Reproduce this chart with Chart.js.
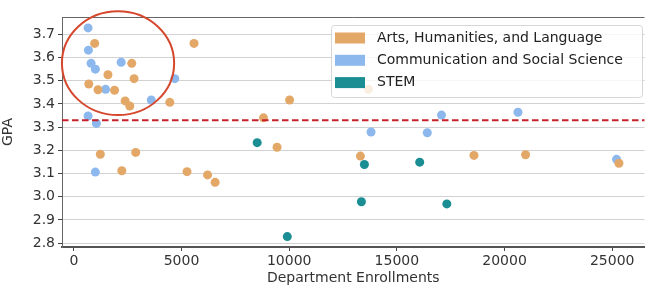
<!DOCTYPE html>
<html>
<head>
<meta charset="utf-8">
<script src="https://cdn.jsdelivr.net/npm/chart.js@4/dist/chart.umd.min.js"></script>
<style>
html,body{margin:0;padding:0;background:#fff;}
#wrap{width:649px;height:287px;position:relative;}
</style>
</head>
<body>
<div id="wrap"><canvas id="c" width="649" height="287"></canvas></div>
<script>
// ---- data ----
const seriesNames = ["Arts, Humanities, and Language", "Communication and Social Science", "STEM"];
const seriesColors = ["#E3A868", "#8DB8EE", "#1B8E93"];

const artsX = [968, 692, 1122, 1583, 1890, 2689, 2797, 2382, 2597, 4457, 5580, 10019, 8806, 1230, 2228, 2873, 5256, 6210, 6561, 9437, 13308, 18580, 20977, 25311, 13680];
const artsY = [3.661, 3.486, 3.461, 3.526, 3.459, 3.575, 3.509, 3.413, 3.391, 3.407, 3.661, 3.417, 3.340, 3.183, 3.112, 3.191, 3.108, 3.094, 3.062, 3.213, 3.175, 3.178, 3.181, 3.144, 3.463];

const commX = [660, 676, 800, 1000, 2198, 1475, 3596, 4687, 660, 1045, 1000, 13801, 16413, 17074, 20625, 25203];
const commY = [3.728, 3.632, 3.575, 3.550, 3.580, 3.463, 3.417, 3.509, 3.348, 3.316, 3.106, 3.279, 3.276, 3.352, 3.364, 3.161];

const stemX = [8514, 9912, 13492, 16061, 13354, 17320];
const stemY = [3.233, 2.828, 3.139, 3.149, 2.978, 2.969];

const xTicks = [0, 5000, 10000, 15000, 20000, 25000];
const yTicks = [2.8, 2.9, 3.0, 3.1, 3.2, 3.3, 3.4, 3.5, 3.6, 3.7];
const meanGPA = 3.33;
// highlighted cluster (data units)
const circleCenter = [2052, 3.576];
const circleRadius = [2605, 0.224];

const xLabel = "Department Enrollments";
const yLabel = "GPA";

function pts(xs, ys){ return xs.map((x,i)=>({x:x, y:ys[i]})); }

const FONT = "'DejaVu Sans', sans-serif";

const extras = {
  id: 'extras',
  afterDatasetsDraw(chart){
    const ctx = chart.ctx, a = chart.chartArea;
    const xs = chart.scales.x, ys = chart.scales.y;
    ctx.save();
    // top spine
    ctx.strokeStyle = '#666'; ctx.lineWidth = 1;
    ctx.beginPath(); ctx.moveTo(a.left, a.top + 0.5); ctx.lineTo(a.right, a.top + 0.5); ctx.stroke();
    // mean dashed line
    const yy = ys.getPixelForValue(meanGPA);
    ctx.strokeStyle = '#C8202A'; ctx.lineWidth = 2; ctx.setLineDash([6.5, 3.5]);
    ctx.beginPath(); ctx.moveTo(a.left, yy); ctx.lineTo(a.right, yy); ctx.stroke();
    ctx.setLineDash([]);
    // highlight ellipse
    const cx = xs.getPixelForValue(circleCenter[0]);
    const cy = ys.getPixelForValue(circleCenter[1]);
    const rx = Math.abs(xs.getPixelForValue(circleCenter[0] + circleRadius[0]) - cx);
    const ry = Math.abs(ys.getPixelForValue(circleCenter[1] + circleRadius[1]) - cy);
    ctx.strokeStyle = '#D5482E'; ctx.lineWidth = 2;
    ctx.beginPath(); ctx.ellipse(cx, cy, rx, ry, 0, 0, Math.PI*2); ctx.stroke();
    // legend
    const bw = 311, bh = 72;
    const bx = chart.width - 7 - bw, by = a.top + 8;
    ctx.fillStyle = 'rgba(255,255,255,0.8)';
    ctx.strokeStyle = '#d6d6d6'; ctx.lineWidth = 1;
    ctx.beginPath();
    if (ctx.roundRect) ctx.roundRect(bx + 0.5, by + 0.5, bw, bh, 3); else ctx.rect(bx + 0.5, by + 0.5, bw, bh);
    ctx.fill(); ctx.stroke();
    ctx.font = '14px ' + FONT;
    ctx.textBaseline = 'middle';
    seriesNames.forEach((n, i) => {
      const ry2 = by + 13 + i * 22.3;
      ctx.fillStyle = seriesColors[i];
      ctx.fillRect(bx + 4, ry2 - 5.5, 30, 11);
      ctx.fillStyle = '#222';
      ctx.fillText(n, bx + 46, ry2);
    });
    ctx.restore();
  }
};

new Chart(document.getElementById('c'), {
  type: 'scatter',
  data: {
    datasets: seriesNames.map((n, i) => ({
      label: n,
      data: i === 0 ? pts(artsX, artsY) : i === 1 ? pts(commX, commY) : pts(stemX, stemY),
      backgroundColor: seriesColors[i],
      borderWidth: 0,
      pointRadius: 4.5,
      pointHoverRadius: 4.5
    }))
  },
  options: {
    responsive: false,
    animation: false,
    events: [],
    layout: { padding: { left: 0, right: -4, top: 17, bottom: 0 } },
    plugins: { legend: { display: false }, tooltip: { enabled: false } },
    scales: {
      x: {
        type: 'linear', min: -550, max: 26500,
        afterBuildTicks(s){ s.ticks = xTicks.map(v => ({value: v})); },
        afterFit(s){ s.height = 40; s.paddingRight = 0; },
        grid: { drawOnChartArea: false, drawTicks: true, tickLength: 4, tickColor: '#444', lineWidth: 1 },
        border: { color: '#555', width: 2 },
        ticks: { font: { family: FONT, size: 14 }, color: '#333', padding: 2, maxRotation: 0, callback: v => String(v) },
        title: { display: true, text: xLabel, font: { family: FONT, size: 14 }, color: '#333', padding: { top: 2, bottom: 0 } }
      },
      y: {
        type: 'linear', min: 2.783, max: 3.775,
        afterBuildTicks(s){ s.ticks = yTicks.map(v => ({value: v})); },
        afterFit(s){ s.width = 62; },
        grid: { color: '#d2d2d2', lineWidth: 1, drawTicks: true, tickLength: 4, tickColor: '#444' },
        border: { color: '#666', width: 1 },
        ticks: { font: { family: FONT, size: 14 }, color: '#333', padding: 3, callback: v => v.toFixed(1) },
        title: { display: true, text: yLabel, font: { family: FONT, size: 14 }, color: '#333', padding: { top: 0, bottom: 2 } }
      }
    }
  },
  plugins: [extras]
});
</script>
</body>
</html>
